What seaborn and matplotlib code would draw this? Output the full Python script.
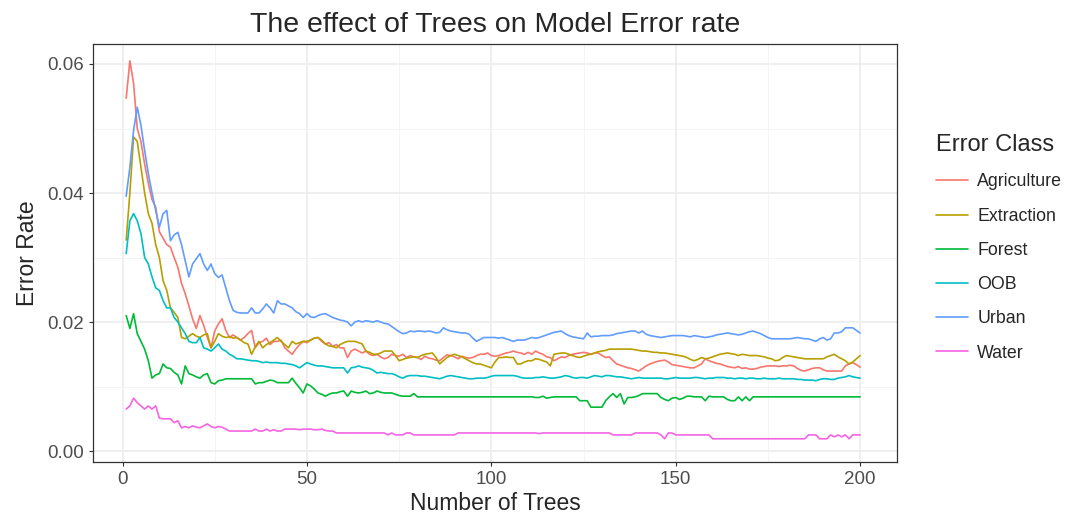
"""
plot.py - random forest error rate vs number of trees, per class.
Saves out.png (1068x514).
"""

import matplotlib.pyplot as plt
import numpy as np
import pandas as pd
import seaborn as sns
from matplotlib.ticker import MultipleLocator

OUT   = "out.png"
SCALE = 1e-4   # the lists below hold error rate * 10000

classes = ["Agriculture", "Extraction", "Forest", "OOB", "Urban", "Water"]
colors  = ["#F8766D", "#B79F00", "#00BA38", "#00BFC4", "#619CFF", "#F564E3"]

agriculture = [
    547, 605, 570, 500, 480, 445, 415, 390, 378, 340,
    330, 320, 316, 300, 285, 260, 244, 225, 205, 190,
    210, 195, 176, 160, 186, 197, 205, 187, 176, 180,
    176, 172, 176, 182, 187, 160, 168, 170, 175, 165,
    170, 170, 172, 160, 155, 150, 158, 165, 170, 168,
    172, 175, 176, 170, 166, 168, 162, 165, 160, 160,
    145, 155, 158, 155, 152, 155, 150, 148, 150, 146,
    143, 145, 150, 148, 147, 150, 145, 148, 146, 145,
    142, 147, 144, 143, 141, 140, 145, 149, 148, 146,
    143, 147, 145, 144, 145, 148, 150, 150, 152, 148,
    147, 148, 150, 152, 153, 155, 153, 152, 150, 153,
    150, 155, 152, 150, 146, 145, 140, 143, 146, 145,
    148, 150, 151, 152, 153, 152, 150, 152, 152, 148,
    145, 146, 140, 135, 133, 131, 129, 128, 126, 124,
    128, 132, 135, 137, 139, 140, 141, 138, 134, 133,
    132, 131, 130, 129, 129, 132, 135, 143, 140, 138,
    136, 135, 133, 131, 130, 129, 131, 128, 129, 127,
    127, 128, 130, 131, 132, 132, 132, 131, 132, 132,
    133, 132, 128, 125, 124, 126, 128, 129, 129, 126,
    124, 124, 124, 124, 124, 132, 135, 137, 134, 130,
]

extraction = [
    327, 400, 487, 480, 440, 400, 368, 353, 320, 300,
    264, 249, 222, 215, 207, 176, 174, 178, 182, 178,
    176, 180, 182, 160, 170, 182, 178, 176, 177, 175,
    176, 172, 168, 166, 150, 162, 170, 160, 165, 168,
    172, 176, 170, 165, 160, 170, 166, 168, 170, 170,
    172, 175, 176, 172, 166, 163, 162, 160, 165, 168,
    170, 170, 170, 168, 166, 155, 153, 150, 150, 152,
    155, 155, 155, 148, 140, 142, 144, 145, 146, 145,
    148, 150, 151, 152, 145, 135, 140, 145, 148, 150,
    148, 146, 143, 140, 137, 135, 135, 133, 131, 129,
    138, 145, 145, 146, 145, 145, 135, 135, 138, 140,
    140, 143, 142, 140, 138, 132, 150, 151, 152, 152,
    150, 148, 146, 145, 147, 149, 150, 152, 154, 155,
    156, 158, 158, 158, 158, 158, 158, 158, 157, 156,
    155, 155, 154, 153, 153, 152, 152, 151, 150, 149,
    148, 147, 145, 142, 140, 142, 145, 143, 144, 146,
    148, 150, 151, 152, 151, 150, 148, 150, 149, 148,
    148, 148, 147, 146, 144, 143, 140, 141, 145, 148,
    147, 146, 145, 144, 143, 143, 143, 143, 143, 143,
    146, 148, 150, 146, 143, 140, 135, 138, 143, 148,
]

forest = [
    210, 190, 213, 182, 170, 158, 140, 113, 118, 120,
    135, 129, 128, 122, 118, 104, 132, 120, 118, 115,
    113, 118, 120, 106, 104, 109, 110, 112, 112, 112,
    112, 112, 112, 112, 112, 104, 106, 106, 108, 110,
    109, 106, 106, 106, 106, 113, 105, 98, 90, 104,
    101, 96, 90, 88, 85, 88, 90, 90, 92, 93,
    85, 93, 91, 90, 91, 93, 89, 90, 93, 91,
    90, 90, 90, 88, 86, 85, 85, 85, 89, 84,
    84, 84, 84, 84, 84, 84, 84, 84, 84, 84,
    84, 84, 84, 84, 84, 84, 84, 84, 84, 84,
    84, 84, 84, 84, 84, 84, 84, 84, 84, 84,
    84, 83, 83, 85, 82, 83, 84, 84, 84, 84,
    84, 84, 84, 78, 78, 78, 68, 68, 68, 68,
    78, 84, 89, 83, 89, 73, 83, 83, 84, 86,
    89, 89, 89, 89, 89, 83, 80, 78, 82, 83,
    80, 82, 85, 85, 84, 84, 84, 78, 85, 84,
    84, 84, 84, 80, 78, 78, 84, 78, 84, 78,
    84, 84, 84, 84, 84, 84, 84, 84, 84, 84,
    84, 84, 84, 84, 84, 84, 84, 84, 84, 84,
    84, 84, 84, 84, 84, 84, 84, 84, 84, 84,
]

oob = [
    306, 357, 368, 357, 337, 300, 290, 270, 253, 249,
    233, 222, 222, 207, 200, 191, 182, 170, 168, 168,
    176, 160, 158, 155, 160, 166, 158, 155, 150, 147,
    143, 143, 142, 141, 140, 140, 139, 137, 138, 137,
    137, 137, 136, 136, 135, 134, 132, 129, 133, 137,
    135, 133, 132, 132, 131, 130, 129, 129, 129, 129,
    121, 129, 130, 132, 130, 129, 128, 125, 121, 122,
    121, 120, 120, 118, 115, 113, 116, 117, 117, 117,
    116, 116, 115, 114, 113, 112, 114, 116, 117, 116,
    115, 114, 113, 112, 112, 113, 113, 113, 114, 116,
    117, 117, 117, 117, 117, 117, 116, 114, 113, 113,
    113, 114, 114, 115, 114, 113, 113, 114, 115, 117,
    116, 114, 113, 114, 114, 113, 115, 117, 116, 115,
    117, 117, 116, 115, 115, 114, 113, 112, 113, 114,
    113, 113, 113, 113, 113, 113, 112, 112, 113, 114,
    113, 113, 113, 113, 114, 114, 113, 112, 113, 113,
    114, 114, 114, 113, 113, 112, 113, 113, 112, 113,
    113, 112, 112, 113, 112, 112, 112, 113, 112, 112,
    112, 112, 111, 111, 110, 110, 110, 109, 111, 112,
    112, 111, 111, 113, 114, 115, 117, 115, 114, 113,
]

urban = [
    395, 440, 497, 533, 505, 466, 430, 400, 373, 347,
    368, 373, 326, 335, 339, 320, 295, 270, 290, 298,
    306, 290, 280, 290, 275, 269, 273, 253, 233, 218,
    215, 214, 214, 214, 222, 214, 214, 220, 228, 222,
    214, 233, 228, 228, 225, 222, 216, 213, 207, 213,
    208, 207, 210, 212, 213, 210, 207, 205, 203, 202,
    200, 194, 200, 202, 200, 202, 201, 200, 202, 200,
    198, 197, 193, 189, 185, 182, 183, 186, 185, 186,
    186, 185, 186, 185, 183, 184, 191, 188, 186, 185,
    184, 183, 183, 181, 175, 170, 173, 176, 176, 176,
    176, 175, 176, 174, 172, 170, 172, 172, 172, 174,
    176, 175, 176, 178, 180, 182, 184, 185, 186, 182,
    179, 177, 176, 175, 174, 183, 177, 178, 178, 179,
    179, 179, 180, 182, 183, 184, 185, 186, 186, 183,
    186, 181, 179, 178, 177, 176, 177, 178, 179, 179,
    179, 179, 178, 177, 179, 178, 177, 176, 177, 178,
    180, 181, 182, 183, 182, 181, 180, 181, 183, 185,
    186, 184, 182, 179, 176, 174, 174, 174, 174, 174,
    174, 175, 176, 175, 174, 174, 172, 170, 174, 176,
    172, 174, 183, 183, 185, 191, 191, 191, 187, 183,
]

water = [
    65, 70, 82, 75, 70, 65, 70, 65, 70, 51,
    50, 50, 50, 44, 47, 36, 38, 36, 39, 37,
    36, 39, 42, 38, 36, 38, 37, 34, 31, 31,
    31, 31, 31, 31, 31, 34, 31, 31, 34, 31,
    33, 31, 31, 34, 34, 34, 34, 33, 34, 34,
    34, 33, 33, 34, 32, 31, 31, 28, 28, 28,
    28, 28, 28, 28, 28, 28, 28, 28, 28, 28,
    28, 25, 28, 25, 25, 25, 28, 28, 25, 25,
    25, 25, 25, 25, 25, 25, 25, 25, 25, 25,
    28, 28, 28, 28, 28, 28, 28, 28, 28, 28,
    28, 28, 28, 28, 28, 28, 28, 28, 28, 28,
    28, 28, 27, 28, 28, 28, 28, 28, 28, 28,
    28, 28, 28, 28, 28, 28, 28, 28, 28, 28,
    28, 28, 25, 25, 25, 25, 25, 25, 28, 28,
    28, 28, 28, 28, 28, 25, 19, 28, 28, 25,
    25, 25, 25, 25, 25, 25, 25, 25, 25, 19,
    19, 19, 19, 19, 19, 19, 19, 19, 19, 19,
    19, 19, 19, 19, 19, 19, 19, 19, 19, 19,
    19, 19, 19, 19, 19, 25, 25, 25, 19, 19,
    19, 25, 22, 25, 22, 25, 19, 25, 25, 25,
]

series = [agriculture, extraction, forest, oob, urban, water]
for s in series:
    assert len(s) == 200
trees = np.arange(1, 201)

df = pd.DataFrame({
    "trees": np.tile(trees, len(classes)),
    "rate":  np.concatenate(series) * SCALE,
    "Error Class": np.repeat(classes, len(trees)),
})

sns.set_theme(style="white")
plt.rcParams["font.family"] = ["Liberation Sans", "DejaVu Sans"]

fig = plt.figure(figsize=(10.68, 5.14), dpi=100)
ax = fig.add_axes([93 / 1068, 52 / 514, 804 / 1068, 418 / 514])

sns.lineplot(
    data=df, x="trees", y="rate", hue="Error Class",
    palette=dict(zip(classes, colors)), estimator=None,
    lw=1.2, ax=ax,
)

ax.set_xlim(-8, 210)
ax.set_ylim(-0.0017, 0.0631)
ax.xaxis.set_major_locator(MultipleLocator(50))
ax.xaxis.set_minor_locator(MultipleLocator(25))
ax.yaxis.set_major_locator(MultipleLocator(0.02))
ax.yaxis.set_minor_locator(MultipleLocator(0.01))
ax.yaxis.set_major_formatter(lambda v, _: f"{v:.2f}")

ax.grid(True, which="major", color="#EBEBEB", lw=1.1)
ax.grid(True, which="minor", color="#F2F2F2", lw=0.6)
ax.set_axisbelow(True)
for sp in ax.spines.values():
    sp.set_color("#333333"); sp.set_linewidth(0.9)
ax.tick_params(which="major", direction="out", length=3, width=0.8,
               color="#333333", labelcolor="#4D4D4D", labelsize=13.5,
               bottom=True, left=True)
ax.tick_params(which="minor", length=0)

ax.set_title("The effect of Trees on Model Error rate", fontsize=20.5, pad=9)
ax.set_xlabel("Number of Trees", fontsize=16.5, labelpad=3)
ax.set_ylabel("Error Rate", fontsize=16.5, labelpad=6)

ax.legend(
    title="Error Class", loc="center left", bbox_to_anchor=(1.028, 0.512),
    frameon=False, fontsize=12.8, title_fontsize=17, handlelength=1.8,
    handletextpad=0.55, labelspacing=0.97, alignment="left",
)

fig.savefig(OUT, dpi=100)
plt.close(fig)
